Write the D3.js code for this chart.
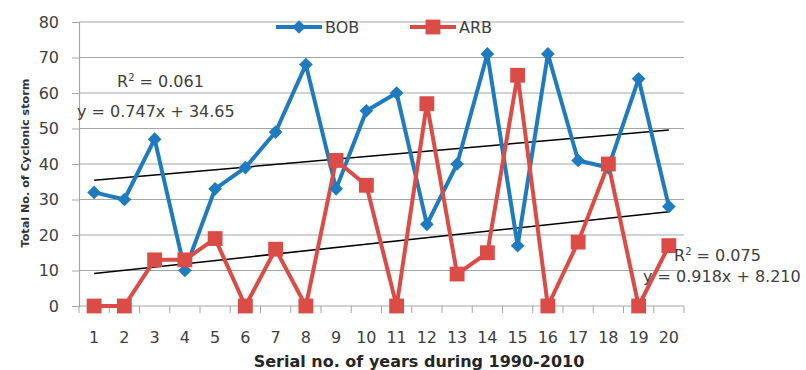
<!DOCTYPE html>
<html>
<head>
<meta charset="utf-8">
<script src="https://cdn.jsdelivr.net/npm/d3@7"></script>
<style>
  body { margin: 0; background: #fff; }
  text { font-family: "DejaVu Sans", sans-serif; }
</style>
</head>
<body>
<div id="chart"></div>
<script>
var years = d3.range(1, 21);
var bob = [32, 30, 47, 10, 33, 39, 49, 68, 33, 55, 60, 23, 40, 71, 17, 71, 41, 39, 64, 28];
var arb = [0, 0, 13, 13, 19, 0, 16, 0, 41, 34, 0, 57, 9, 15, 65, 0, 18, 40, 0, 17];
var yTicks = [0, 10, 20, 30, 40, 50, 60, 70, 80];
// trendline coefficients as printed on the chart
var bobTrend = {slope: 0.747, icpt: 34.65, r2: "0.061"};
var arbTrend = {slope: 0.918, icpt: 8.210, r2: "0.075"};

var width = 806, height = 370,
    margin = {top: 22, right: 122, bottom: 64, left: 79};

var svg = d3.select("#chart").append("svg")
    .attr("width", width)
    .attr("height", height);

var x = d3.scaleBand()
    .domain(years)
    .range([margin.left, width - margin.right]);

var y = d3.scaleLinear()
    .domain([0, 80])
    .range([height - margin.bottom, margin.top]);

function cx(d) { return x(d) + x.bandwidth() / 2; }

// gridlines
svg.append("g")
    .selectAll("line")
    .data(yTicks.slice(1))
    .enter().append("line")
    .attr("x1", margin.left)
    .attr("x2", width - margin.right)
    .attr("y1", function (d) { return y(d); })
    .attr("y2", function (d) { return y(d); })
    .style("stroke", "#a6a6a6")
    .style("stroke-width", "1.2px");

// y axis
var yAxis = svg.append("g")
    .attr("transform", "translate(" + margin.left + ",0)")
    .call(d3.axisLeft(y).tickValues(yTicks).tickSize(7).tickPadding(13));
yAxis.select(".domain").style("stroke", "#a6a6a6").style("stroke-width", "1.2px");
yAxis.selectAll(".tick line").style("stroke", "#a6a6a6");
yAxis.selectAll("text")
    .style("font-family", "'DejaVu Sans', sans-serif")
    .style("font-size", "16px").style("fill", "#404040");

// x axis: ticks sit between the categories
var xAxis = svg.append("g")
    .attr("transform", "translate(0," + y(0) + ")");
xAxis.append("line")
    .attr("x1", margin.left)
    .attr("x2", width - margin.right)
    .style("stroke", "#a6a6a6")
    .style("stroke-width", "1.2px");
xAxis.selectAll("line.tk")
    .data(years.concat([21]))
    .enter().append("line")
    .attr("class", "tk")
    .attr("x1", function (d) { return d <= 20 ? x(d) : x(20) + x.bandwidth(); })
    .attr("x2", function (d) { return d <= 20 ? x(d) : x(20) + x.bandwidth(); })
    .attr("y1", 0)
    .attr("y2", 7)
    .style("stroke", "#a6a6a6");
xAxis.selectAll("text")
    .data(years)
    .enter().append("text")
    .attr("x", cx)
    .attr("y", 37)
    .attr("text-anchor", "middle")
    .style("font-size", "16px")
    .style("fill", "#404040")
    .text(function (d) { return d; });

// axis titles
svg.append("text")
    .attr("x", 419)
    .attr("y", 367)
    .attr("text-anchor", "middle")
    .style("font-size", "16px")
    .style("font-weight", "bold")
    .style("fill", "#262626")
    .text("Serial no. of years during 1990-2010");

svg.append("text")
    .attr("transform", "translate(29,163) rotate(-90)")
    .attr("text-anchor", "middle")
    .style("font-size", "11.2px")
    .style("font-weight", "bold")
    .style("fill", "#333")
    .text("Total No. of Cyclonic storm");

// trendlines
function trendLine(t) {
    svg.append("line")
        .attr("x1", cx(1)).attr("y1", y(t.slope * 1 + t.icpt))
        .attr("x2", cx(20)).attr("y2", y(t.slope * 20 + t.icpt))
        .style("stroke", "#000")
        .style("stroke-width", "1.5px");
}
trendLine(bobTrend);
trendLine(arbTrend);

var blue = "#1f7bc0", red = "#dc4c47";

var line = d3.line()
    .x(function (d, i) { return cx(years[i]); })
    .y(function (d) { return y(d); });

svg.append("path")
    .datum(bob)
    .attr("d", line)
    .style("fill", "none")
    .style("stroke", blue)
    .style("stroke-width", "4px")
    .style("stroke-linejoin", "round");

svg.append("path")
    .datum(arb)
    .attr("d", line)
    .style("fill", "none")
    .style("stroke", red)
    .style("stroke-width", "4px")
    .style("stroke-linejoin", "round");

var diamond = d3.symbol().type(d3.symbolDiamond2).size(120);
var square = d3.symbol().type(d3.symbolSquare).size(220);

svg.append("g").selectAll("path")
    .data(bob)
    .enter().append("path")
    .attr("d", diamond)
    .attr("transform", function (d, i) {
        return "translate(" + cx(years[i]) + "," + y(d) + ")";
    })
    .style("fill", blue);

svg.append("g").selectAll("path")
    .data(arb)
    .enter().append("path")
    .attr("d", square)
    .attr("transform", function (d, i) {
        return "translate(" + cx(years[i]) + "," + y(d) + ")";
    })
    .style("fill", red);

// trendline labels
function trendLabel(t, lx, ly) {
    var g = svg.append("g").style("font-size", "16px").style("fill", "#404040");
    var r = g.append("text").attr("x", lx.r).attr("y", ly.r);
    r.append("tspan").text("R");
    r.append("tspan").attr("dy", -6).style("font-size", "10px").text("2");
    r.append("tspan").attr("dy", 6).text(" = " + t.r2);
    g.append("text").attr("x", lx.e).attr("y", ly.e)
        .text("y = " + t.slope.toFixed(3) + "x + " +
              (t.icpt < 10 ? t.icpt.toFixed(3) : t.icpt.toFixed(2)));
}
trendLabel(bobTrend, {r: 117, e: 77}, {r: 87, e: 117});
trendLabel(arbTrend, {r: 674, e: 643}, {r: 261, e: 282});

// legend
var legend = svg.append("g").attr("transform", "translate(0,27)");
var items = [
    {name: "BOB", color: blue, sym: diamond, x: 276},
    {name: "ARB", color: red, sym: square, x: 410}
];
items.forEach(function (it) {
    legend.append("line")
        .attr("x1", it.x).attr("x2", it.x + 46)
        .style("stroke", it.color).style("stroke-width", "4px");
    legend.append("path")
        .attr("d", it.sym)
        .attr("transform", "translate(" + (it.x + 23) + ",0)")
        .style("fill", it.color);
    legend.append("text")
        .attr("x", it.x + 49).attr("y", 6)
        .style("font-size", "16px")
        .style("fill", "#404040")
        .text(it.name);
});
</script>
</body>
</html>
